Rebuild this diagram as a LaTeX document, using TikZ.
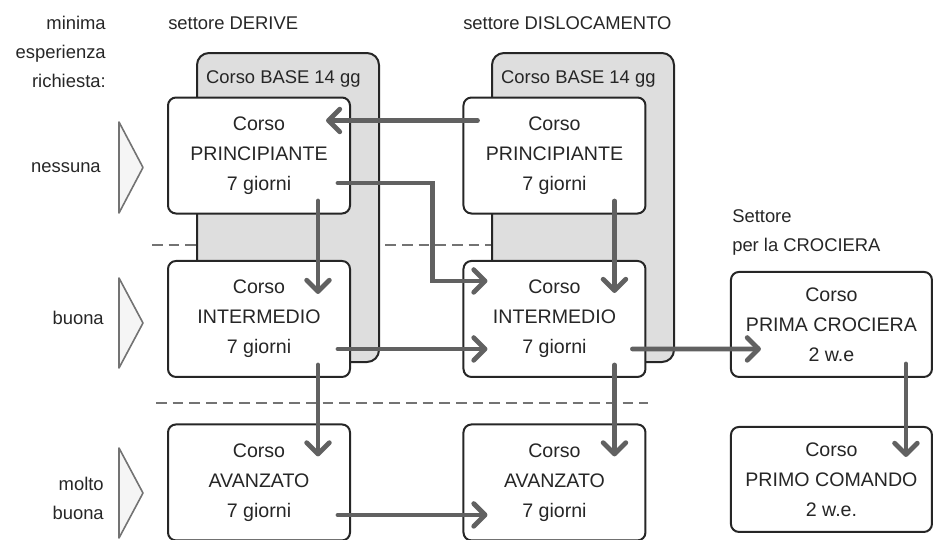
\documentclass[tikz,border=0pt]{standalone}
\usepackage{fontspec}
\setmainfont{Liberation Sans}
\usetikzlibrary{calc,positioning,arrows.meta}

\begin{document}
\begin{tikzpicture}[x=0.75pt,y=-0.75pt]
        \tikzstyle{cs} = [rectangle, rounded corners=6pt, align=center, draw=black!85,
                          line width=1.5pt, fill=white, minimum width=136.5pt,
                          minimum height=87pt, inner sep=0pt, text=black!85,
                          font=\fontsize{14.7}{22.5}\selectfont]
        \tikzstyle{cc} = [cs, minimum width=150.75pt, minimum height=78.75pt]
        \tikzstyle{bg} = [rectangle, rounded corners=9pt, draw=black!85, line width=1.5pt,
                          fill=black!13, minimum width=136.5pt, minimum height=231.75pt]
        \tikzstyle{tx} = [inner sep=0pt, text=black!85, font=\fontsize{13.8}{21.75}\selectfont]
        \tikzstyle{fr} = [draw=black!62, line width=3.6pt, line cap=round,
                          -{Straight Barb[length=8.5pt,width=17pt,round]}]
        \tikzstyle{dl} = [draw=black!55, line width=2pt, dash pattern=on 8pt off 4.5pt]
        \tikzstyle{tr} = [draw=black!55, fill=black!4, line width=1.2pt, line join=round]

        \useasboundingbox (0,0) rectangle (934,539);

        \draw[dl] (152,245) -- (648,245);
        \draw[dl] (156,403) -- (648,403);

        \node(bd)  [bg] at (288,207.5) {};
        \node(bl)  [bg, right=83.25pt of bd] {};
        \node(bdt) [tx, below=14pt of bd.north, xshift=-3.5pt] {Corso BASE 14 gg};
        \node(blt) [tx, below=14pt of bl.north, xshift=-3.5pt] {Corso BASE 14 gg};

        \node(pd)  [cs] at (259,155.5)          {Corso\\PRINCIPIANTE\\7 giorni};
        \node(pl)  [cs, right=83.6pt of pd]     {Corso\\PRINCIPIANTE\\7 giorni};
        \node(id)  [cs, below=34.1pt of pd]     {Corso\\INTERMEDIO\\7 giorni};
        \node(il)  [cs, below=34.1pt of pl]     {Corso\\INTERMEDIO\\7 giorni};
        \node(ad)  [cs, below=34.1pt of id]     {Corso\\AVANZATO\\7 giorni};
        \node(al)  [cs, below=34.1pt of il]     {Corso\\AVANZATO\\7 giorni};
        \node(cr)  [cc, right=62.6pt of il, yshift=-4.1pt] {Corso\\PRIMA CROCIERA\\2 w.e};
        \node(pc)  [cc, below=36pt of cr]       {Corso\\PRIMO COMANDO\\2 w.e.};

        \node(hd)  [tx, anchor=base west] at (168,29) {settore DERIVE};
        \node(hl)  [tx, anchor=base west] at (463,29) {settore DISLOCAMENTO};
        \node(hc)  [tx, align=left, anchor=south west] at (732,256) {Settore\\per la CROCIERA};
        \node(me)  [tx, align=right, anchor=east] at (106,52) {minima\\esperienza\\richiesta:};
        \node(l1)  [tx, anchor=east] at (101,168) {nessuna};
        \node(l2)  [tx, anchor=east] at (104,318) {buona};
        \node(l3)  [tx, align=right, anchor=east] at (104,498) {molto\\buona};

        \draw[tr] (119,122) -- (143,167.5) -- (119,213) -- cycle;
        \draw[tr] (119,278) -- (143,323) -- (119,368) -- cycle;
        \draw[tr] (119,448) -- (143,493) -- (119,538) -- cycle;

        \draw[fr] ($(pl.west)+(15,-35)$) -- ($(pd.east)+(-25,-35)$);
        \draw[fr] ($(pd.east)+(-13,27.5)$) -| ($(il.west)+(-30,-38)$) -- ($(il.west)+(25,-38)$);
        \draw[fr] ($(pd.south)+(59,-13.5)$) -- ($(id.north)+(59,34)$);
        \draw[fr] ($(pl.south)+(60,-13.5)$) -- ($(il.north)+(60,33)$);
        \draw[fr] ($(id.east)+(-13,30)$) -- ($(il.west)+(25,30)$);
        \draw[fr] ($(id.south)+(59,-13)$) -- ($(ad.north)+(59,33)$);
        \draw[fr] ($(il.south)+(60,-13)$) -- ($(al.north)+(60,33)$);
        \draw[fr] ($(il.east)+(-14,30)$) -- ($(cr.west)+(31,24.5)$);
        \draw[fr] ($(cr.south)+(74.5,-14)$) -- ($(pc.north)+(74.5,31)$);
        \draw[fr] ($(ad.east)+(-13,32.5)$) -- ($(al.west)+(25,32.5)$);
\end{tikzpicture}
\end{document}
